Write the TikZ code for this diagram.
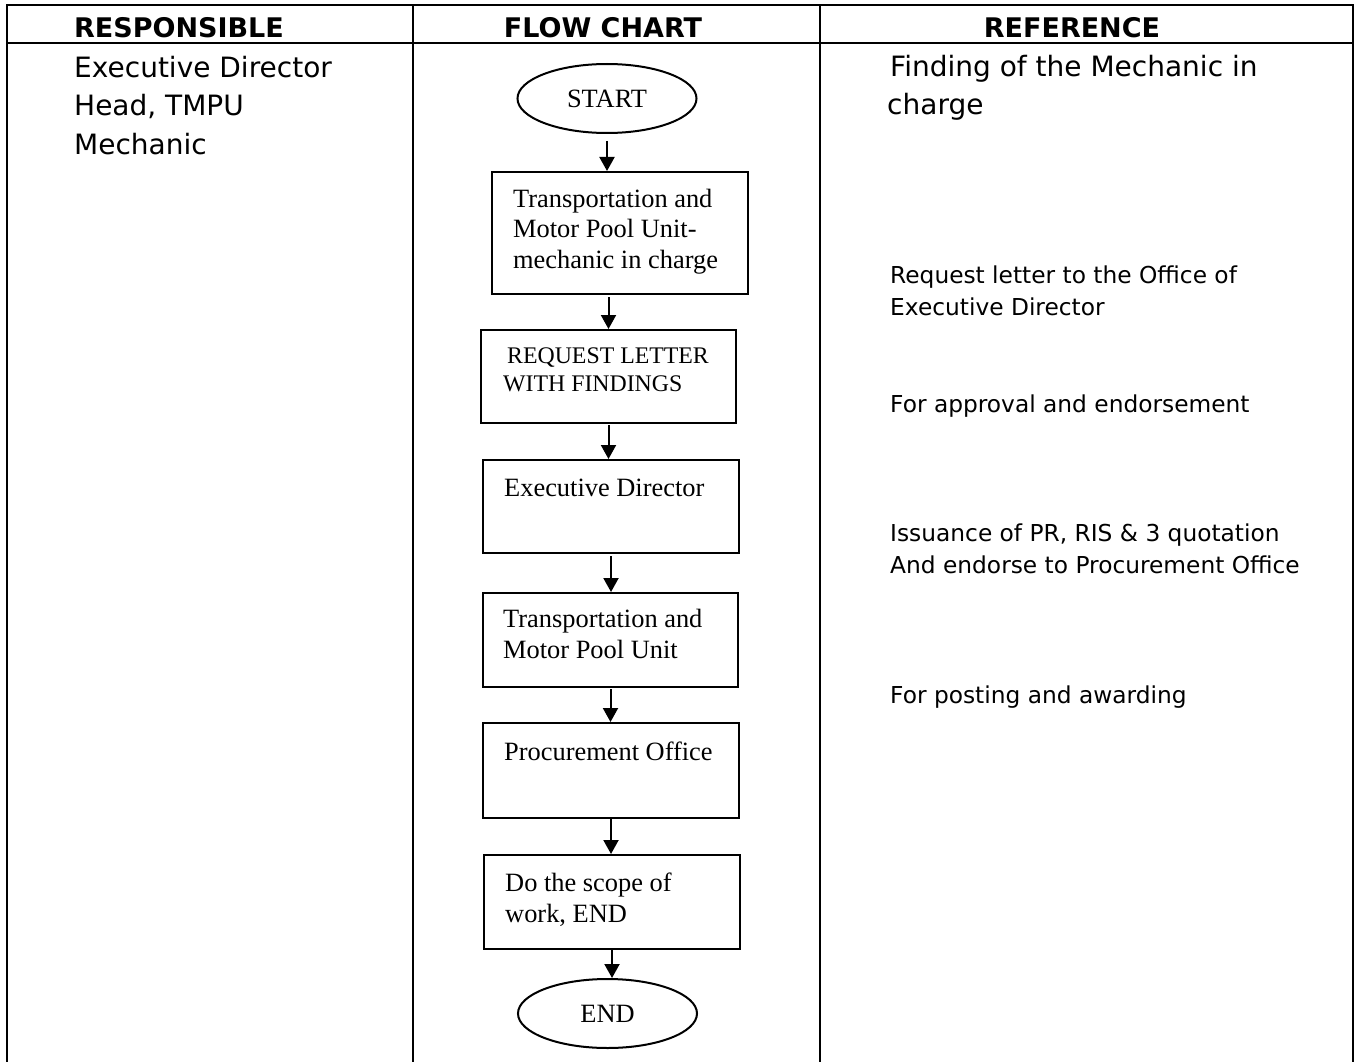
\documentclass[tikz,border=0pt]{standalone}
\usepackage{fontspec}
\setmainfont{Liberation Serif}
\newfontfamily\tahoma{DejaVu Sans}
\usetikzlibrary{arrows.meta,shapes.geometric}

\tikzset{
  rule/.style={line width=2.5pt},
  head/.style={font=\tahoma\bfseries\fontsize{27}{32}\selectfont, anchor=base, inner sep=0},
  coltext/.style={font=\tahoma\fontsize{28}{38.5}\selectfont, anchor=base west, align=left, inner sep=0},
  reftext/.style={font=\tahoma\fontsize{23.3}{32}\selectfont, anchor=base west, align=left, inner sep=0},
  flowbox/.style={draw, line width=2pt, rectangle, minimum width=256pt, minimum height=94pt, inner sep=0},
  boxtext/.style={font=\fontsize{26.4}{30.5}\selectfont, anchor=base west, align=left, inner sep=0},
  terminal/.style={draw, line width=2pt, ellipse, minimum width=179pt, minimum height=69pt, inner sep=0, font=\fontsize{26.4}{30}\selectfont},
  flow/.style={line width=2pt, -{Triangle[length=14pt,width=15pt]}},
}

\begin{document}
\begin{tikzpicture}[x=1pt,y=-1pt]
\useasboundingbox (0,0) rectangle (1355,1062);

% table
\draw[rule, line join=miter] (7,1062) -- (7,5) -- (1353,5) -- (1353,1062);
\draw[rule] (7,43) -- (1353,43);
\draw[rule] (413,5) -- (413,1062);
\draw[rule] (820,5) -- (820,1062);

\node[head] (h-resp) at (179,38) {RESPONSIBLE};
\node[head] (h-flow) at (603,38) {FLOW CHART};
\node[head] (h-ref) at (1072,38) {REFERENCE};

% responsible (base = last line)
\node[coltext] (resp) at (74,154) {Executive Director\\Head, TMPU\\Mechanic};

% flow chart
\node[terminal] (start) at (607,98.5) {START};
\node[flowbox, minimum height=122pt] (tmpu) at (620,233) {};
\node[flowbox, minimum width=255pt, minimum height=93pt] (req) at (608.5,376.5) {};
\node[flowbox, minimum height=93pt] (ed) at (611,506.5) {};
\node[flowbox, minimum width=255pt] (tmpu2) at (610.5,640) {};
\node[flowbox, minimum height=95pt] (proc) at (611,770.5) {};
\node[flowbox] (scope) at (612,902) {};
\node[terminal] (finish) at (607.5,1013.5) {END};

\node[boxtext] (tmpu-t) at (513,268) {Transportation and\\Motor Pool Unit-\\mechanic in charge};
\node[boxtext, font=\fontsize{23.8}{28}\selectfont] (req-t) at (503,391) {\hspace{4pt}REQUEST LETTER\\WITH FINDINGS};
\node[boxtext] (ed-t) at (504,496) {Executive Director};
\node[boxtext] (tmpu2-t) at (503,658) {Transportation and\\Motor Pool Unit};
\node[boxtext] (proc-t) at (504,760) {Procurement Office};
\node[boxtext] (scope-t) at (505,922) {Do the scope of\\work, END};

\draw[flow, shorten <=7pt] (start) -- (start |- tmpu.north);
\draw[flow, shorten <=2pt] (req.north |- tmpu.south) -- (req);
\draw[flow, shorten <=1pt] (req) -- (req |- ed.north);
\draw[flow, shorten <=2pt] (ed) -- (ed |- tmpu2.north);
\draw[flow, shorten <=1pt] (tmpu2) -- (tmpu2 |- proc.north);
\draw[flow] (proc) -- (proc |- scope.north);
\draw[flow] (scope) -- (scope |- finish.north);

% reference
\node[coltext] (ref-find) at (887,115) {\hspace{3pt}Finding of the Mechanic in\\charge};
\node[reftext] (ref-req) at (890,315) {Request letter to the Office of\\Executive Director};
\node[reftext] (ref-appr) at (890,412) {For approval and endorsement};
\node[reftext] (ref-issue) at (890,573) {Issuance of PR, RIS \& 3 quotation\\And endorse to Procurement Office};
\node[reftext] (ref-post) at (890,703) {For posting and awarding};
\end{tikzpicture}
\end{document}
